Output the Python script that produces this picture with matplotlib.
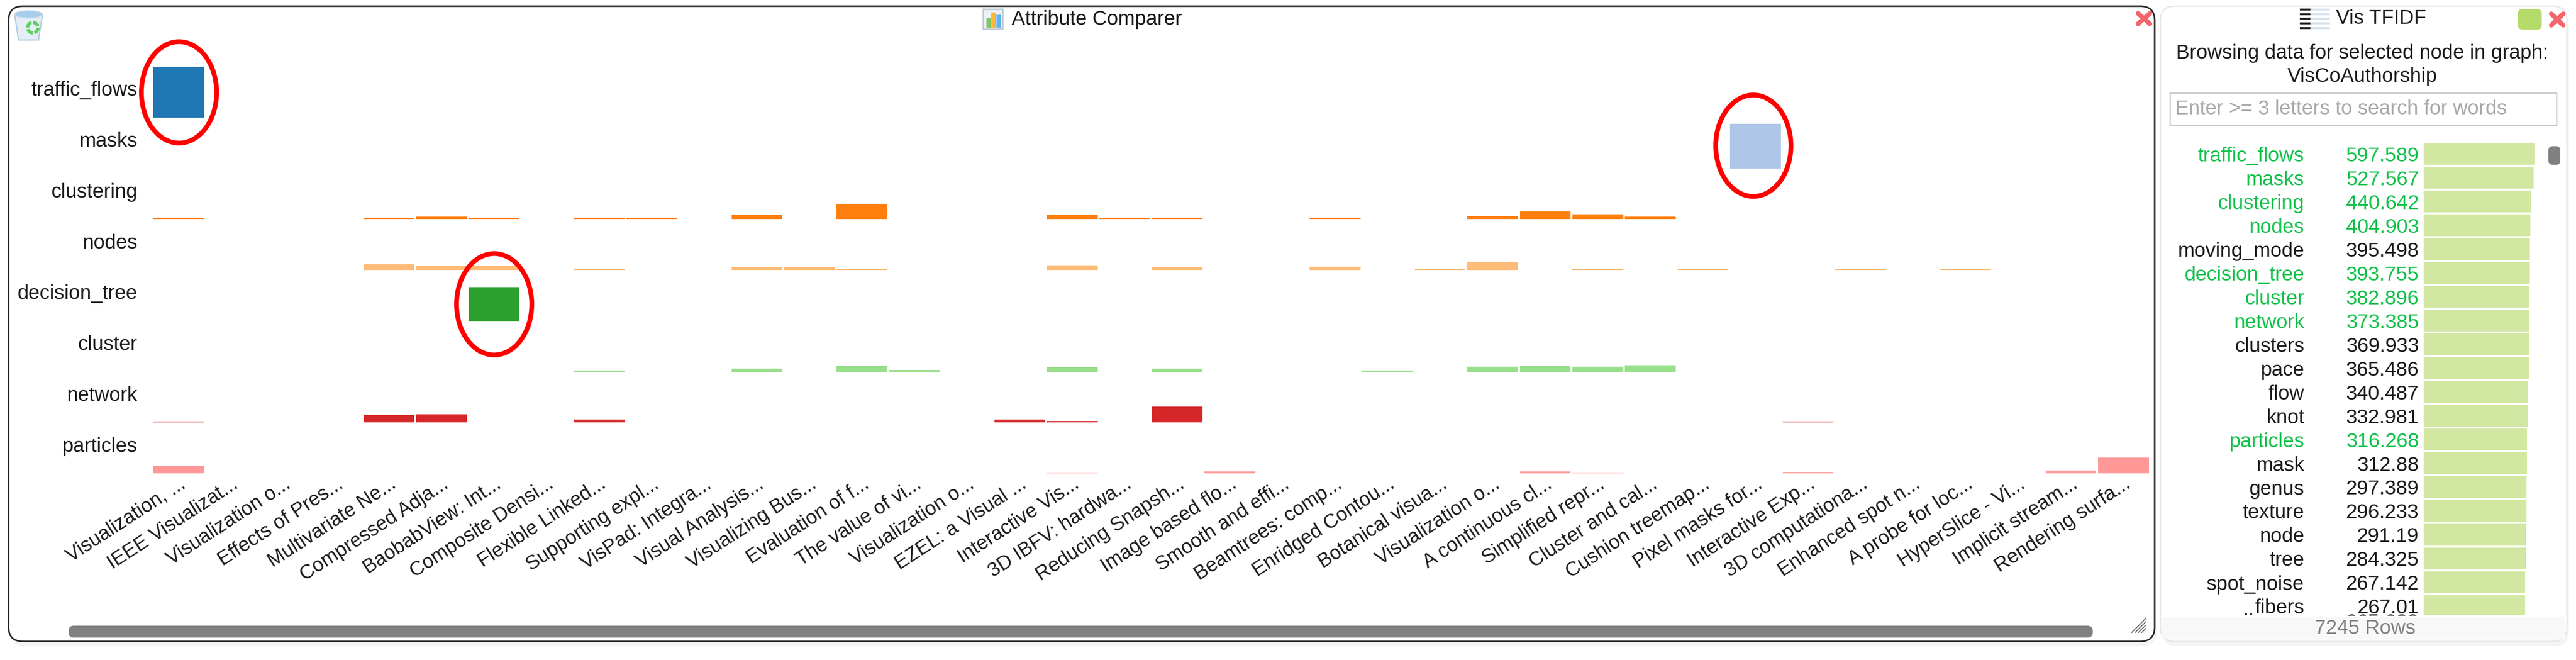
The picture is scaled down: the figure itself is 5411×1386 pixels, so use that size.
"""Attribute Comparer + Vis TFIDF panels, redrawn from a screenshot."""
import matplotlib
matplotlib.use("Agg")
import matplotlib.pyplot as plt
from matplotlib.patches import Circle, Ellipse, FancyBboxPatch, Polygon, Rectangle
from matplotlib.transforms import Bbox

plt.rcParams["font.family"] = ["Liberation Sans", "DejaVu Sans"]

W, H = 5411, 1386
TEXT = "#1c1c1c"

DOCS = ["Visualization, ...", "IEEE Visualizat...", "Visualization o...", "Effects of Pres...",
        "Multivariate Ne...", "Compressed Adja...", "BaobabView: Int...", "Composite Densi...",
        "Flexible Linked...", "Supporting expl...", "VisPad: Integra...", "Visual Analysis...",
        "Visualizing Bus...", "Evaluation of f...", "The value of vi...", "Visualization o...",
        "EZEL: a Visual ...", "Interactive Vis...", "3D IBFV: hardwa...", "Reducing Snapsh...",
        "Image based flo...", "Smooth and effi...", "Beamtrees: comp...", "Enridged Contou...",
        "Botanical visua...", "Visualization o...", "A continuous cl...", "Simplified repr...",
        "Cluster and cal...", "Cushion treemap...", "Pixel masks for...", "Interactive Exp...",
        "3D computationa...", "Enhanced spot n...", "A probe for loc...", "HyperSlice - Vi...",
        "Implicit stream...", "Rendering surfa..."]

TERMS = ["traffic_flows", "masks", "clustering", "nodes",
         "decision_tree", "cluster", "network", "particles"]
TERM_COLORS = ["#1f77b4", "#aec7e8", "#ff7f0e", "#ffbb78",
               "#2ca02c", "#98df8a", "#d62728", "#ff9896"]

# non-empty cells per term: document index, share of the row height
TRAFFIC_DOCS = [0]
TRAFFIC_VALS = [1.0]
MASKS_DOCS = [30]
MASKS_VALS = [0.88]
CLUSTERING_DOCS = [0, 4, 5, 6, 8, 9, 11, 13, 17, 18, 19, 22, 25, 26, 27, 28]
CLUSTERING_VALS = [.025, .025, .045, .025, .025, .025, .09, .30, .09, .025, .025, .025, .06, .15, .10, .05]
NODES_DOCS = [4, 5, 6, 8, 11, 12, 13, 17, 19, 22, 24, 25, 27, 29, 32, 34]
NODES_VALS = [.115, .085, .085, .02, .06, .06, .02, .09, .055, .065, .02, .16, .02, .02, .02, .02]
TREE_DOCS = [6]
TREE_VALS = [0.66]
CLUSTER_DOCS = [8, 11, 13, 14, 17, 19, 23, 25, 26, 27, 28]
CLUSTER_VALS = [.025, .065, .115, .03, .085, .065, .02, .10, .115, .10, .13]
NETWORK_DOCS = [0, 4, 5, 8, 16, 17, 19, 31]
NETWORK_VALS = [.025, .15, .165, .06, .055, .035, .315, .025]
PARTICLES_DOCS = [0, 17, 20, 26, 27, 31, 36, 37]
PARTICLES_VALS = [.15, .02, .035, .035, .02, .03, .06, .31]

WORDS = ["traffic_flows", "masks", "clustering", "nodes", "moving_mode", "decision_tree",
         "cluster", "network", "clusters", "pace", "flow", "knot", "particles", "mask",
         "genus", "texture", "node", "tree", "spot_noise", "fibers"]
SCORES = [597.589, 527.567, 440.642, 404.903, 395.498, 393.755, 382.896, 373.385, 369.933,
          365.486, 340.487, 332.981, 316.268, 312.88, 297.389, 296.233, 291.19, 284.325,
          267.142, 267.01]
# the row behind the footer, only the tops of its digits show
CUT_SCORE = "265.682"


def axes_px(left, top, right, bottom, **kw):
    return fig.add_axes([left / W, 1 - bottom / H, (right - left) / W, (bottom - top) / H], **kw)


def panel(ax, x0, y0, x1, y1, edge, lw):
    # soft shadow first, then the panel
    ax.add_patch(FancyBboxPatch((x0 + 4, y0 + 10), x1 - x0, y1 - y0, boxstyle="round,pad=0,rounding_size=30",
                                fc="#f4f4f4", ec="none", zorder=1))
    ax.add_patch(FancyBboxPatch((x0, y0), x1 - x0, y1 - y0, boxstyle="round,pad=0,rounding_size=30",
                                fc="white", ec=edge, lw=lw, zorder=2))


def close_x(ax, x0, y0, x1, y1):
    ax.plot([x0, x1], [y0, y1], color="#f2666c", lw=7, solid_capstyle="round", zorder=6)
    ax.plot([x0, x1], [y1, y0], color="#f2666c", lw=7, solid_capstyle="round", zorder=6)


fig = plt.figure(figsize=(W / 100, H / 100), dpi=100, facecolor="white")

bg = axes_px(0, 0, W, H)
bg.set_xlim(0, W)
bg.set_ylim(H, 0)
bg.axis("off")

panel(bg, 18, 13, 4526, 1347, "#2a2a2a", 2.4)
panel(bg, 4538, 13, 5392, 1347, "#e6e6e6", 2)

# left panel chrome
bg.text(2125, 41, "Attribute Comparer", fontsize=30.5, color=TEXT, ha="left", va="center", zorder=5)
bg.add_patch(Rectangle((2065, 19), 41, 42, fc="#eef1f4", ec="#c0ccd8", lw=2.5, zorder=4))
for x0, x1, top, c in [(2072, 2081, 37, "#82c468"), (2082, 2092, 26, "#fbb838"), (2093, 2102, 31, "#62b4ea")]:
    bg.add_patch(Rectangle((x0, top), x1 - x0, 58 - top, fc=c, ec="none", zorder=5))

# recycle bin
bg.add_patch(Polygon([(31, 32), (89, 32), (81, 84), (39, 84)], closed=True, fc="#e4eef6", ec="#b4cde0",
                     lw=2, zorder=5))
bg.add_patch(Ellipse((60, 30), 58, 15, fc="#a8cdea", ec="#c4d8e8", lw=1.5, zorder=6))
bg.add_patch(Circle((69, 58), 11, fc="none", ec="#5ed05e", lw=5, ls=(0, (2.0, 0.5)), zorder=6))

bg.add_patch(FancyBboxPatch((144, 1314), 4252, 25, boxstyle="round,pad=0,rounding_size=11",
                            fc="#808080", ec="none", zorder=5))
close_x(bg, 4491, 28, 4516, 50)
for d in (8, 15, 22, 29):
    bg.plot([4507 - d, 4507], [1328, 1328 - d], color="#666666", lw=1.5, zorder=5)

# right panel chrome
bg.add_patch(Rectangle((4541, 1295), 848, 48, fc="#f8f8f8", ec="none", zorder=3))
bg.text(4968, 1320, "7245 Rows", fontsize=30.5, color="#808080", ha="center", va="center", zorder=5)
bg.text(4907, 39, "Vis TFIDF", fontsize=30.5, color=TEXT, ha="left", va="center", zorder=5)
bg.text(4962, 112, "Browsing data for selected node in graph:", fontsize=30.5, color=TEXT,
        ha="center", va="center", zorder=5)
bg.text(4962, 161, "VisCoAuthorship", fontsize=30.5, color=TEXT, ha="center", va="center", zorder=5)
bg.add_patch(Rectangle((4558, 195), 812, 68, fc="white", ec="#cccccc", lw=2, zorder=3))
bg.text(4569, 229, "Enter >= 3 letters to search for words", fontsize=30.5, color="#a9a9a9",
        ha="left", va="center", zorder=5)
for y in (20, 30, 39, 49, 59):
    bg.plot([4833, 4853], [y, y], color="#222222", lw=3, zorder=5)
    for x0 in (4855, 4868, 4881):
        bg.plot([x0, x0 + 11], [y, y], color="#d4e2ef", lw=3, zorder=5)
bg.add_patch(FancyBboxPatch((5289, 19), 50, 43, boxstyle="round,pad=0,rounding_size=9",
                            fc="#b5dc6a", ec="none", zorder=5))
close_x(bg, 5359, 29, 5384, 53)
bg.add_patch(FancyBboxPatch((5353, 307), 25, 39, boxstyle="round,pad=0,rounding_size=9",
                            fc="#808080", ec="none", zorder=5))

# term x document bars, each term has its own baseline
ax = axes_px(320.3, 140, 4515.5, 994, facecolor="none")
series = [(TRAFFIC_DOCS, TRAFFIC_VALS), (MASKS_DOCS, MASKS_VALS), (CLUSTERING_DOCS, CLUSTERING_VALS),
          (NODES_DOCS, NODES_VALS), (TREE_DOCS, TREE_VALS), (CLUSTER_DOCS, CLUSTER_VALS),
          (NETWORK_DOCS, NETWORK_VALS), (PARTICLES_DOCS, PARTICLES_VALS)]
for r, (docs, vals) in enumerate(series):
    ax.bar(docs, vals, width=0.965, bottom=7 - r, color=TERM_COLORS[r], linewidth=0)
ax.set_xlim(-0.5, 37.5)
ax.set_ylim(0, 8)
ax.set_yticks([7 - r + 0.57 for r in range(8)], TERMS, fontsize=30.5, color=TEXT)
ax.set_xticks(range(len(DOCS)))
ax.set_xticklabels(DOCS, rotation=33, ha="right", va="top", rotation_mode="anchor",
                   fontsize=30, color=TEXT)
ax.tick_params(axis="both", length=0)
ax.tick_params(axis="y", pad=23)
ax.tick_params(axis="x", pad=2)
for s in ax.spines.values():
    s.set_visible(False)

# word list with log scaled bars
ax2 = axes_px(5091, 298, 5325, 1292, facecolor="none")
ax2.barh(range(len(WORDS)), SCORES, height=0.92, color="#d2e8a2", linewidth=0)
ax2.set_xscale("log")
ax2.set_xlim(0.075, 597.589)
ax2.set_ylim(19.38, -0.5)
ax2.axis("off")
HIGHLIGHT = set(TERMS)
tf = ax2.get_yaxis_transform()
for i, (word, score) in enumerate(zip(WORDS, SCORES)):
    c = "#12c24a" if word in HIGHLIGHT else TEXT
    ax2.text(-1.0726, i + 0.31, word, transform=tf, ha="right", va="baseline", fontsize=30.5, color=c)
    ax2.text(-0.0427, i + 0.31, f"{score:g}", transform=tf, ha="right", va="baseline", fontsize=30.5, color=c)

bg.text(4735, 1292, "..", fontsize=30.5, color=TEXT, ha="right", va="baseline", zorder=5)
cut = bg.text(5081, 1319, CUT_SCORE, fontsize=30.5, color=TEXT, ha="right", va="baseline", zorder=5)
cut.set_clip_on(True)
cut.set_clip_box(Bbox([[4900, H - 1293], [5090, H - 1270]]))

# hand drawn red circles on top of everything
over = axes_px(0, 0, W, H, facecolor="none")
over.set_xlim(0, W)
over.set_ylim(H, 0)
over.axis("off")
for cx, cy in [(376, 194), (1038, 639), (3683, 306)]:
    over.add_patch(Ellipse((cx, cy), 158, 213, fc="none", ec="#ff0000", lw=7.2))

fig.savefig("out.png", dpi=100)
